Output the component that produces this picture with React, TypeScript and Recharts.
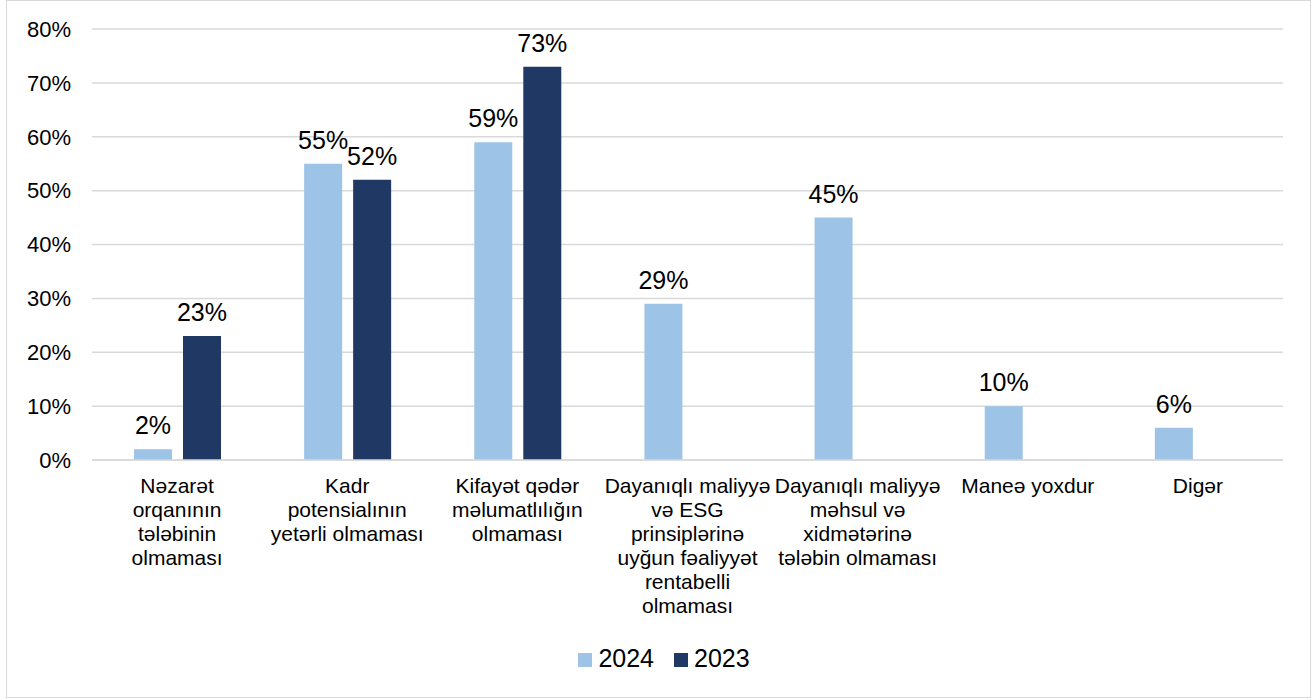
import React from 'react';
import { BarChart, Bar, XAxis, YAxis, CartesianGrid, Legend, LabelList } from 'recharts';

const categories = [
  'Nəzarət\norqanının\ntələbinin\nolmaması',
  'Kadr\npotensialının\nyetərli olmaması',
  'Kifayət qədər\nməlumatlılığın\nolmaması',
  'Dayanıqlı maliyyə\nvə ESG\nprinsiplərinə\nuyğun fəaliyyət\nrentabelli\nolmaması',
  'Dayanıqlı maliyyə\nməhsul və\nxidmətərinə\ntələbin olmaması',
  'Maneə yoxdur',
  'Digər',
];
const values2024: (number | null)[] = [2, 55, 59, 29, 45, 10, 6];
const values2023: (number | null)[] = [23, 52, 73, null, null, null, null];
const seriesOrder = ['2024', '2023'];
const yTicks = [0, 10, 20, 30, 40, 50, 60, 70, 80];

const data = categories.map((name, i) => ({ name, v2024: values2024[i], v2023: values2023[i] }));

const FONT = '"Liberation Sans", Arial, sans-serif';
const C2024 = '#9dc3e6';
const C2023 = '#203864';

const CatTick = (props: any) => {
  const { x, y, payload } = props;
  const lines = String(payload.value).split('\n');
  return (
    <text x={x} y={y} textAnchor="middle" fill="#000" fontSize={21} fontFamily={FONT}>
      {lines.map((l, i) => (
        <tspan key={i} x={x} dy={i === 0 ? 33 : 24}>
          {l}
        </tspan>
      ))}
    </text>
  );
};

const LegendContent = (props: any) => {
  const items = [...(props.payload || [])].sort(
    (a: any, b: any) => seriesOrder.indexOf(String(a.value)) - seriesOrder.indexOf(String(b.value))
  );
  return (
    <div style={{ display: 'flex', justifyContent: 'center', alignItems: 'baseline', fontFamily: FONT, fontSize: 25, lineHeight: '30px', color: '#000' }}>
      {items.map((p: any, i: number) => (
        <span key={i} style={{ display: 'inline-flex', alignItems: 'baseline', marginLeft: i === 0 ? 0 : 20 }}>
          <span style={{ display: 'inline-block', width: 14, height: 14, background: p.color, marginRight: 6 }} />
          {p.value}
        </span>
      ))}
    </div>
  );
};

const fmt = (v: any) => (v === null || v === undefined ? '' : `${v}%`);

export default function App() {
  return (
    <div style={{ position: 'absolute', left: 0, top: 0, width: 1315, height: 700, background: '#fff' }}>
      <div style={{ position: 'absolute', left: 6, top: 0, width: 1305, height: 698, border: '1.5px solid #d9d9d9', boxSizing: 'border-box' }} />
      <div style={{ position: 'absolute', left: 0, top: 0 }}>
        <BarChart
          width={1315}
          height={700}
          data={data}
          margin={{ top: 29, right: 32, bottom: 210, left: 0 }}
          barSize={38}
          barGap={11}
        >
          <CartesianGrid vertical={false} stroke="#d9d9d9" strokeWidth={1.5} />
          <XAxis
            dataKey="name"
            interval={0}
            height={30}
            tickLine={false}
            tickSize={0}
            tickMargin={0}
            axisLine={{ stroke: '#d9d9d9', strokeWidth: 1.5 }}
            tick={<CatTick />}
          />
          <YAxis
            width={92}
            domain={[0, 80]}
            ticks={yTicks}
            interval={0}
            tickFormatter={(v) => `${v}%`}
            axisLine={false}
            tickLine={false}
            tickSize={0}
            tickMargin={21}
            tick={{ fill: '#000', fontSize: 22, fontFamily: FONT }}
          />
          <Legend
            layout="horizontal"
            verticalAlign="middle"
            align="center"
            content={<LegendContent />}
            wrapperStyle={{ top: 643, left: 13, width: 1302, height: 30 }}
          />
          <Bar dataKey="v2024" name="2024" fill={C2024} isAnimationActive={false}>
            <LabelList dataKey="v2024" position="top" offset={15} formatter={fmt} fill="#000" fontSize={25} fontFamily={FONT} />
          </Bar>
          <Bar dataKey="v2023" name="2023" fill={C2023} isAnimationActive={false}>
            <LabelList dataKey="v2023" position="top" offset={15} formatter={fmt} fill="#000" fontSize={25} fontFamily={FONT} />
          </Bar>
        </BarChart>
      </div>
    </div>
  );
}
